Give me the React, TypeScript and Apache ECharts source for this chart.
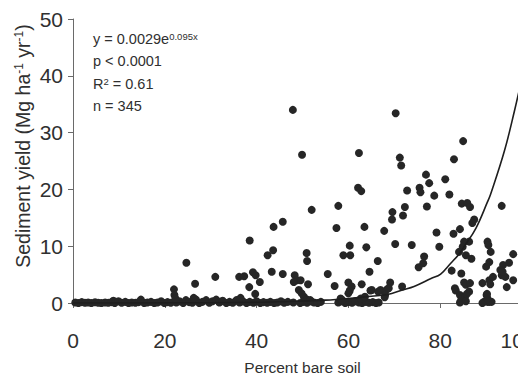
import React, { useEffect, useRef } from "react";
import * as echarts from "echarts";

// Percent bare soil (x) vs sediment yield (y), near-zero observations
const baselinePoints: [number, number][] = [
  [0.5, 0.1], [1.2, 0.0], [1.9, 0.15], [2.6, 0.05], [3.3, 0.1], [4.0, 0.0], [4.8, 0.12], [5.5, 0.05],
  [6.2, 0.0], [7.0, 0.1], [7.7, 0.05], [8.4, 0.15], [8.8, 0.4], [9.1, 0.0], [9.9, 0.3], [10.6, 0.05],
  [11.4, 0.2], [12.1, 0.0], [12.8, 0.1], [13.6, 0.05], [14.3, 0.15], [14.8, 0.6], [15.5, 0.0], [16.2, 0.1],
  [17.0, 0.2], [17.7, 0.0], [18.4, 0.1], [19.2, 0.3], [19.9, 0.0], [20.6, 0.15], [21.3, 0.05], [22.5, 0.1],
  [23.2, 0.3], [24.0, 0.0], [24.6, 0.5], [25.3, 0.15], [26.0, 0.05], [26.8, 0.6], [27.5, 0.0], [28.2, 0.2],
  [29.0, 0.5], [29.7, 0.05], [30.4, 0.3], [31.2, 0.6], [31.9, 0.1], [32.6, 0.4], [33.4, 0.0], [34.1, 0.2],
  [34.8, 0.05], [35.6, 0.5], [36.3, 0.1], [37.0, 0.3], [37.8, 0.0], [38.5, 0.2], [39.3, 0.05], [40.0, 0.3],
  [40.8, 0.0], [41.5, 0.15], [42.3, 0.05], [43.0, 0.2], [43.8, 0.0], [44.5, 0.1], [45.3, 0.3], [46.0, 0.05],
  [46.8, 0.2], [48.0, 0.1], [49.5, 0.0], [50.2, 0.2], [51.0, 0.05], [51.8, 0.3], [52.5, 0.1], [53.3, 0.0],
  [54.0, 0.2], [57.8, 0.1], [58.5, 0.3], [59.3, 0.0], [60.0, 0.15], [60.8, 0.05], [61.5, 0.3], [62.3, 0.1],
  [63.0, 0.0], [63.8, 0.2], [64.5, 0.05], [65.3, 0.15], [66.0, 0.0], [66.6, 0.1],
];

// Raised observations
const scatterPoints: [number, number][] = [
  [22.0, 2.4], [22.1, 1.4], [22.3, 0.8], [24.7, 7.1], [26.6, 3.4], [26.3, 0.9], [31.0, 4.6], [36.2, 4.6],
  [37.3, 4.7], [36.5, 0.9], [38.5, 11.0], [38.4, 2.8], [39.2, 5.4], [39.8, 4.9], [40.7, 3.7], [39.7, 1.6],
  [43.7, 13.4], [45.7, 14.3], [42.4, 8.4], [43.6, 9.3], [43.3, 5.5], [45.7, 5.1], [47.9, 34.0], [49.9, 26.1],
  [52.0, 16.4], [50.9, 8.8], [51.0, 7.4], [48.3, 4.9], [48.8, 4.0], [49.6, 4.0], [48.1, 3.7], [51.2, 3.3],
  [49.2, 2.3], [49.8, 1.7], [50.3, 1.1], [51.0, 0.6], [51.7, 0.5], [55.5, 5.1], [57.0, 3.0], [57.4, 13.2],
  [57.8, 17.1], [58.9, 8.4], [60.3, 10.1], [60.4, 8.4], [60.0, 3.6], [60.7, 2.9], [60.3, 2.2], [60.0, 1.7],
  [58.3, 0.8], [58.7, 0.5], [62.3, 26.4], [62.1, 20.3], [62.8, 19.7], [63.5, 13.4], [63.9, 9.8], [62.9, 3.3],
  [64.6, 5.5], [66.4, 7.4], [65.1, 2.3], [66.5, 2.0], [62.7, 0.8], [63.6, 1.1], [64.8, 2.2], [67.0, 2.3],
  [67.8, 12.7], [69.1, 3.6], [68.4, 2.4], [68.0, 1.4], [68.8, 2.6], [67.9, 1.0], [69.6, 16.0], [69.5, 14.7],
  [70.3, 33.4], [71.2, 25.6], [71.5, 24.2], [72.8, 19.8], [72.3, 16.9], [71.9, 15.4], [70.2, 10.4], [71.7, 2.9],
  [73.8, 10.2], [75.5, 20.3], [75.7, 19.5], [76.9, 22.6], [77.6, 21.1], [77.1, 17.0], [76.5, 8.2], [76.3, 7.0],
  [75.3, 6.3], [78.7, 18.9], [79.2, 12.4], [79.8, 9.9], [81.1, 21.8], [82.0, 19.1], [83.0, 25.3], [82.9, 12.2],
  [82.5, 5.7], [85.0, 28.5], [84.7, 17.5], [85.9, 17.6], [86.5, 16.9], [84.3, 13.0], [87.4, 14.7], [87.0, 14.1],
  [85.2, 10.8], [86.3, 10.8], [84.9, 9.9], [84.1, 9.0], [85.6, 8.4], [86.8, 7.8], [84.6, 5.2], [83.2, 2.6],
  [83.4, 2.2], [85.2, 3.6], [85.6, 3.2], [86.3, 2.0], [84.3, 1.4], [84.6, 0.6], [84.3, 0.1], [85.4, 1.1],
  [85.6, 0.3], [85.8, 1.6], [86.5, 3.5], [89.2, 3.5], [90.7, 4.0], [90.9, 3.3], [90.1, 1.4], [89.5, 0.2],
  [90.3, 0.2], [90.7, 0.2], [91.2, 0.2], [89.2, 0.0], [90.3, 0.8], [90.2, 1.6], [90.3, 10.8], [90.5, 10.2],
  [91.0, 9.0], [90.0, 6.4], [90.7, 7.2], [91.5, 4.6], [93.4, 17.1], [93.7, 6.7], [95.0, 7.1], [93.1, 5.8],
  [93.4, 4.9], [94.2, 4.6], [95.9, 4.0], [95.9, 8.6], [94.5, 2.8], [93.6, 5.5],
];

// Fitted exponential curve
const fitCurve: [number, number][] = [
  [0, 0.0], [20, 0.02], [40, 0.13], [50, 0.35], [55, 0.5], [60, 0.8], [65, 1.2], [68.5, 1.5],
  [71.8, 2.3], [74.3, 2.9], [78, 4.3], [80.1, 5.1], [82.3, 7.0], [84.1, 8.6], [85.2, 9.9], [87.8, 13.2],
  [90.3, 17.8], [91, 19.2], [94, 26.8], [96.2, 33.9], [97.5, 38.5], [99, 44],
];

const equationLines = ["y = 0.0029e{s|0.095x}", "p < 0.0001", "R{s|2} = 0.61", "n = 345"];

const FONT = "'Liberation Sans', Arial, Helvetica, sans-serif";
const TEXT = "#303030";
const AXIS = "#6a6a6a";
const DOT = "#262626";

export default function App() {
  const ref = useRef<HTMLDivElement>(null);
  useEffect(() => {
    if (!ref.current) return;
    const chart = echarts.init(ref.current, undefined, { renderer: "svg" });
    const eqGraphics = equationLines.map((line, i) => ({
      type: "text",
      left: 93,
      top: 31 + i * 22.5,
      style: {
        text: line,
        fontFamily: FONT,
        fontSize: 14.5,
        fill: TEXT,
        rich: {
          s: { fontSize: 9.5, fontFamily: FONT, fill: TEXT, verticalAlign: "top" as const, padding: [0, 0, 6, 0] },
        },
      },
    }));
    chart.setOption({
      animation: false,
      backgroundColor: "#ffffff",
      grid: {
        left: 73,
        top: 19,
        right: -14,
        bottom: 74,
        containLabel: false,
        outerBoundsMode: "none",
      },
      xAxis: {
        type: "value",
        min: 0,
        max: 100,
        interval: 20,
        name: "Percent bare soil",
        nameLocation: "middle",
        nameGap: 56,
        nameTextStyle: { fontFamily: FONT, fontSize: 15.5, color: TEXT },
        axisLine: { show: true, lineStyle: { color: AXIS, width: 1 } },
        axisTick: { show: true, length: 5, inside: false, lineStyle: { color: AXIS } },
        axisLabel: {
          fontFamily: FONT,
          fontSize: 21,
          color: TEXT,
          margin: 27,
          hideOverlap: false,
          formatter: (v: number) => (v === 100 ? "{m|100}" : String(v)),
          rich: { m: { fontFamily: FONT, fontSize: 21, color: TEXT, padding: [0, 28, 0, 0] } },
        },
        splitLine: { show: false },
      },
      yAxis: {
        type: "value",
        min: 0,
        max: 50,
        interval: 10,
        axisLine: { show: true, lineStyle: { color: AXIS, width: 1 } },
        axisTick: { show: true, length: 5, inside: false, lineStyle: { color: AXIS } },
        axisLabel: { fontFamily: FONT, fontSize: 21, color: TEXT, margin: 10 },
        splitLine: { show: false },
      },
      graphic: [
        {
          type: "text",
          x: 23,
          y: 146,
          rotation: Math.PI / 2,
          style: {
            text: "Sediment yield (Mg ha{s|-1} yr{s|-1})",
            fontFamily: FONT,
            fontSize: 19.5,
            fill: TEXT,
            align: "center",
            verticalAlign: "middle",
            rich: {
              s: { fontSize: 12, fontFamily: FONT, fill: TEXT, verticalAlign: "top" as const, padding: [0, 0, 8, 0] },
            },
          },
        },
        ...eqGraphics,
      ],
      series: [
        {
          type: "scatter",
          data: baselinePoints,
          symbol: "circle",
          symbolSize: 8,
          itemStyle: { color: DOT, opacity: 1 },
          z: 2,
        },
        {
          type: "scatter",
          data: scatterPoints,
          symbol: "circle",
          symbolSize: 8,
          itemStyle: { color: DOT, opacity: 1 },
          z: 2,
        },
        {
          type: "line",
          data: fitCurve,
          smooth: 0.4,
          showSymbol: false,
          symbol: "none",
          lineStyle: { color: "#1e1e1e", width: 1.6 },
          z: 3,
        },
      ],
    });
    return () => chart.dispose();
  }, []);
  return (
    <div
      ref={ref}
      style={{ position: "fixed", left: 0, top: 0, width: 518, height: 377, background: "#fff" }}
    />
  );
}
